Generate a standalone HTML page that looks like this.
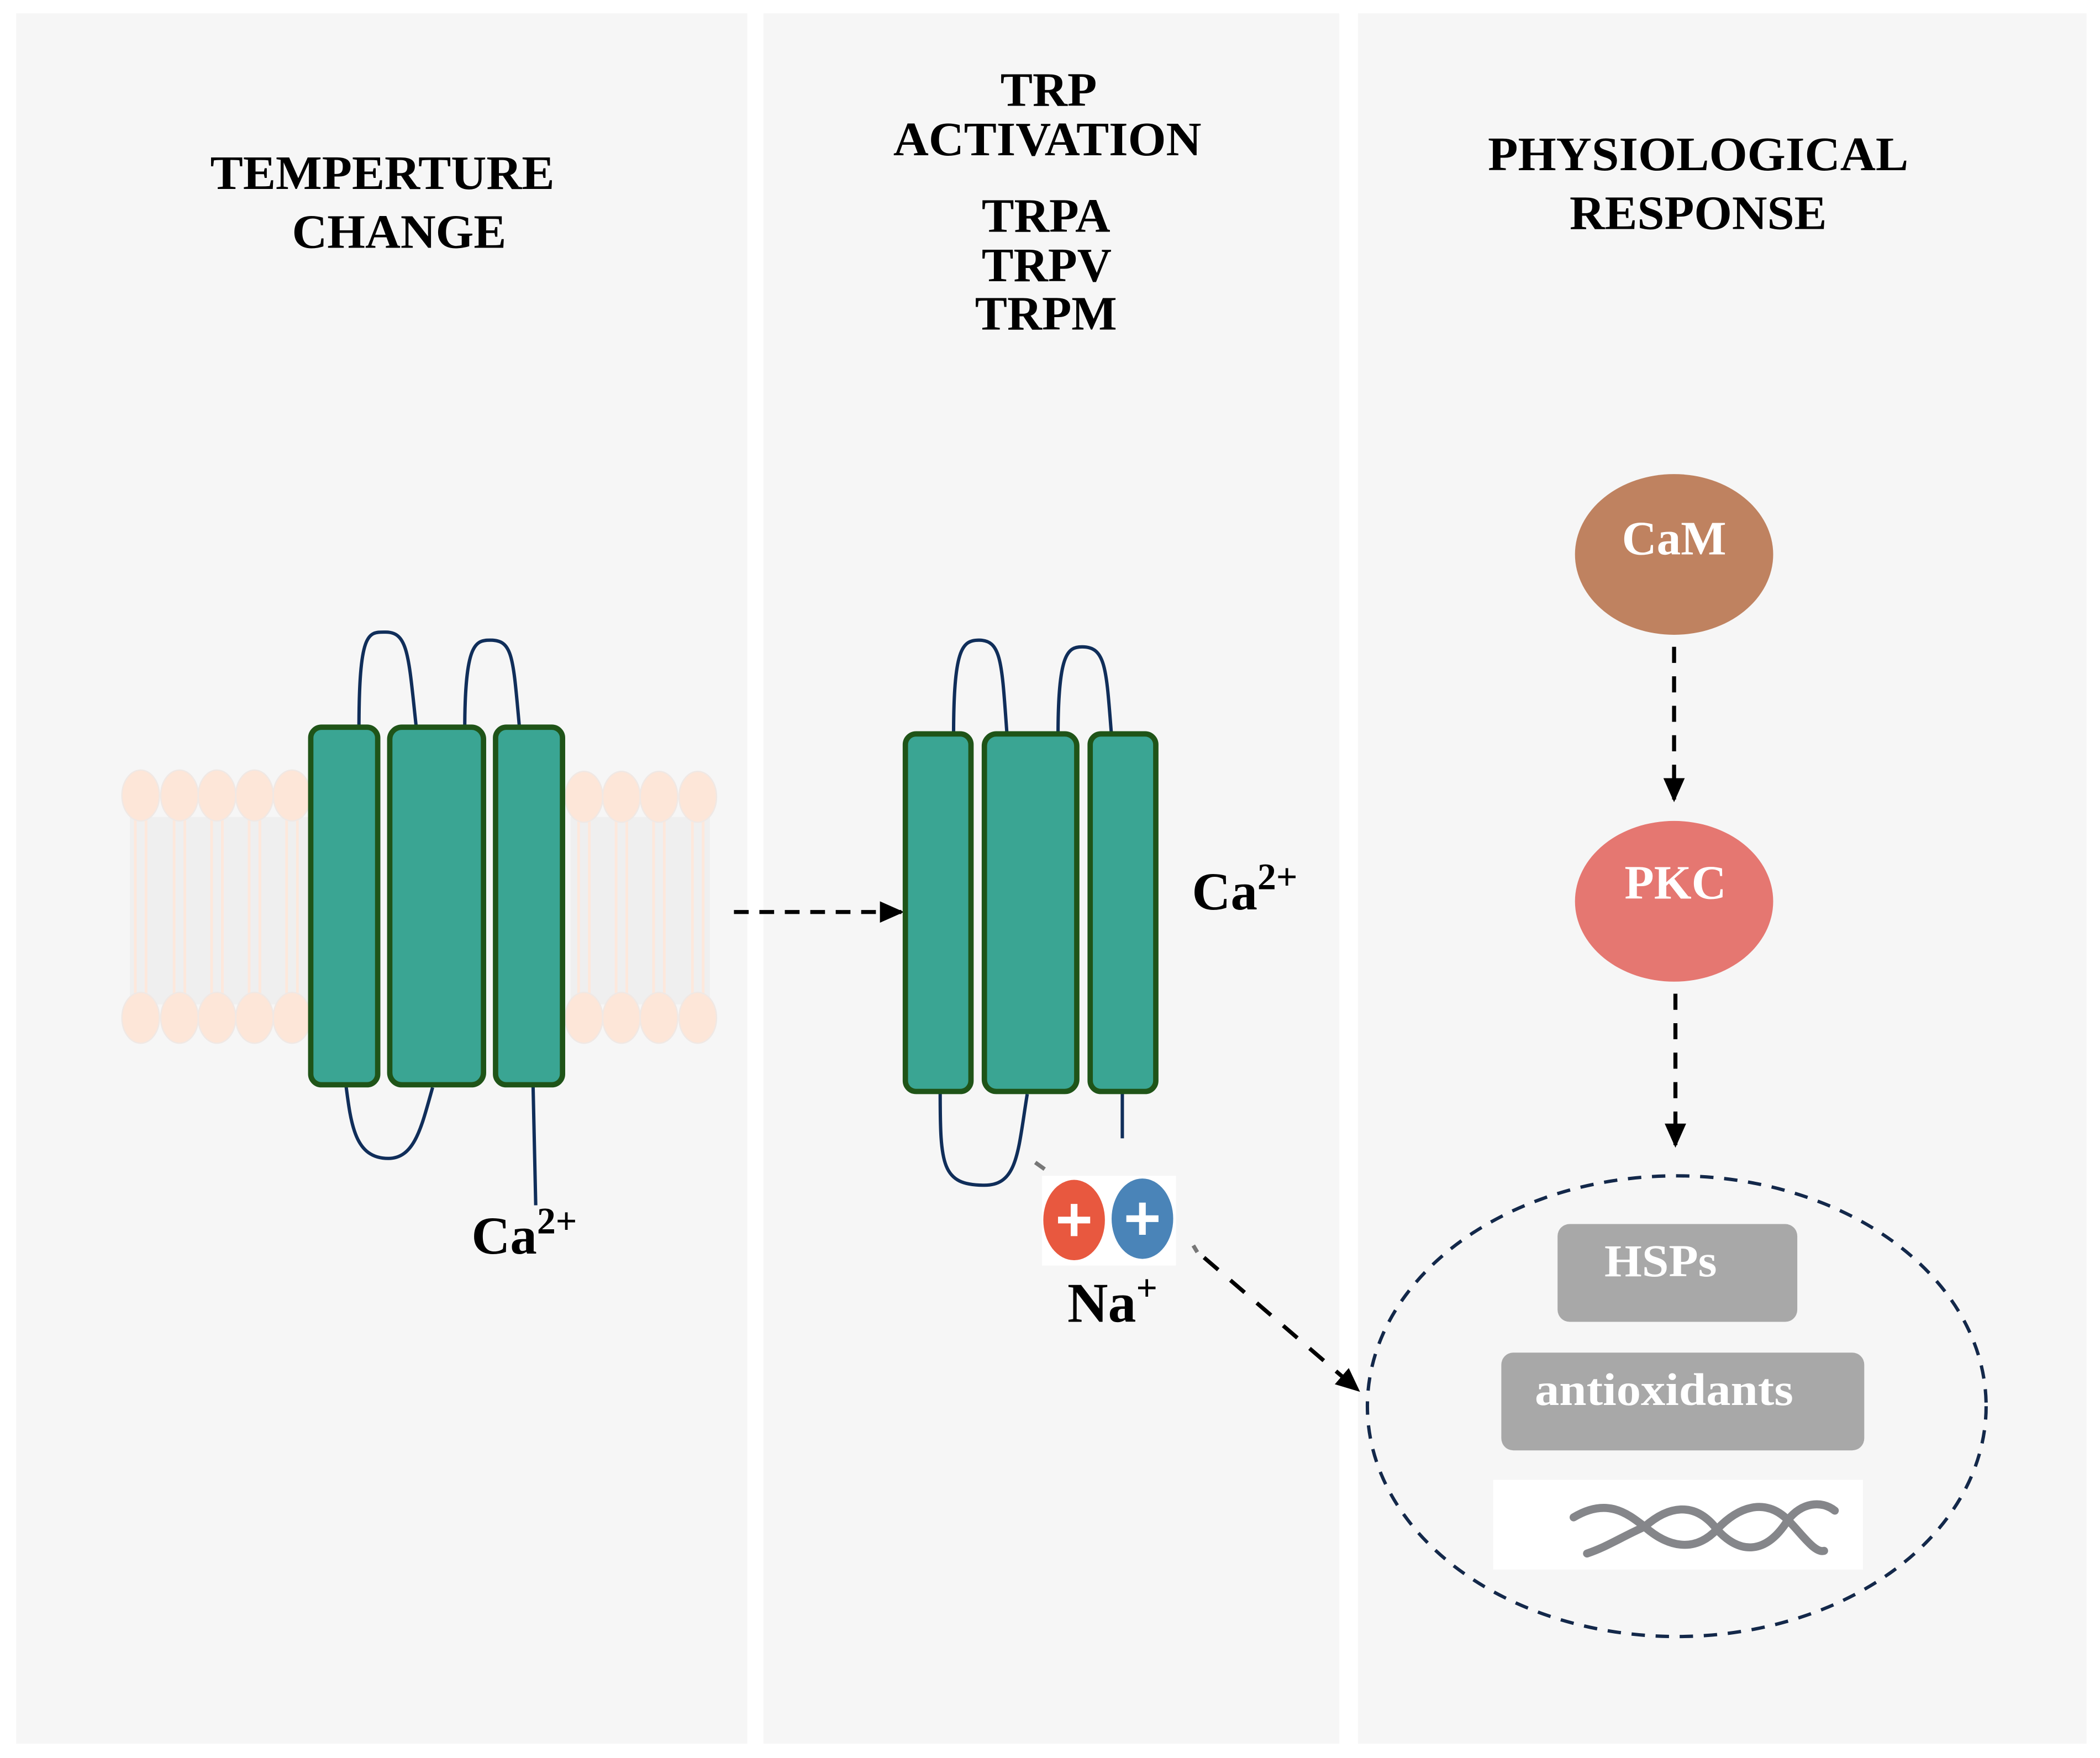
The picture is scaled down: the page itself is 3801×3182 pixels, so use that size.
<!DOCTYPE html>
<html><head><meta charset="utf-8"><style>
html,body{margin:0;padding:0;background:#fff;}
svg{display:block;}
text{font-family:"Liberation Serif",serif;font-weight:bold;}
</style></head><body>
<svg width="3801" height="3182" viewBox="0 0 1568 1312.7" xmlns="http://www.w3.org/2000/svg">
<defs>
<marker id="ah2" markerWidth="20" markerHeight="20" refX="16" refY="10" orient="auto" markerUnits="userSpaceOnUse" viewBox="0 0 20 20">
<path d="M0,2 L18,10 L0,18 Z" fill="#000"/></marker>
</defs>
<rect width="1568" height="1313" fill="#fff"/>
<rect x="12" y="10" width="546" height="1292" fill="#f6f6f6"/>
<rect x="570" y="10" width="430" height="1292" fill="#f6f6f6"/>
<rect x="1014" y="10" width="544" height="1292" fill="#f6f6f6"/>

<g font-size="36" fill="#000" lengthAdjust="spacingAndGlyphs">
<text x="157" y="141" textLength="257" lengthAdjust="spacingAndGlyphs">TEMPERTURE</text>
<text x="218" y="185" textLength="160" lengthAdjust="spacingAndGlyphs">CHANGE</text>
<text x="747" y="79" textLength="72" lengthAdjust="spacingAndGlyphs">TRP</text>
<text x="667" y="116" textLength="230" lengthAdjust="spacingAndGlyphs">ACTIVATION</text>
<text x="733" y="173" textLength="96" lengthAdjust="spacingAndGlyphs">TRPA</text>
<text x="733" y="210" textLength="97" lengthAdjust="spacingAndGlyphs">TRPV</text>
<text x="728" y="246" textLength="106" lengthAdjust="spacingAndGlyphs">TRPM</text>
<text x="1111" y="127" textLength="314" lengthAdjust="spacingAndGlyphs">PHYSIOLOGICAL</text>
<text x="1172" y="171" textLength="192" lengthAdjust="spacingAndGlyphs">RESPONSE</text>
</g>

<g>
<rect x="97" y="610" width="140" height="140" fill="#efefef"/>
<rect x="426" y="610" width="104" height="140" fill="#efefef"/>
<g stroke="#fde8dc" stroke-width="2">
<path d="M101,610V750M109,610V750M130,610V750M138,610V750M158,610V750M166,610V750M186,610V750M194,610V750M214,610V750M222,610V750"/>
<path d="M432,610V750M440,610V750M460,610V750M468,610V750M488,610V750M496,610V750M517,610V750M525,610V750"/>
</g>
<g fill="#fde6d8" stroke="#f0e8e4" stroke-width="1">
<ellipse cx="105" cy="594" rx="14" ry="19"/><ellipse cx="134" cy="594" rx="14" ry="19"/><ellipse cx="162" cy="594" rx="14" ry="19"/><ellipse cx="190" cy="594" rx="14" ry="19"/><ellipse cx="218" cy="594" rx="14" ry="19"/>
<ellipse cx="436" cy="595" rx="14" ry="19"/><ellipse cx="464" cy="595" rx="14" ry="19"/><ellipse cx="492" cy="595" rx="14" ry="19"/><ellipse cx="521" cy="595" rx="14" ry="19"/>
<ellipse cx="105" cy="760" rx="14" ry="19"/><ellipse cx="134" cy="760" rx="14" ry="19"/><ellipse cx="162" cy="760" rx="14" ry="19"/><ellipse cx="190" cy="760" rx="14" ry="19"/><ellipse cx="218" cy="760" rx="14" ry="19"/>
<ellipse cx="436" cy="760" rx="14" ry="19"/><ellipse cx="464" cy="760" rx="14" ry="19"/><ellipse cx="492" cy="760" rx="14" ry="19"/><ellipse cx="521" cy="760" rx="14" ry="19"/>
</g>
</g>

<g fill="none" stroke="#102e5a" stroke-width="2.5">
<path d="M268,545 C268,470 275,472 288,472 C305,472 305,490 311,545"/>
<path d="M347,545 C347,480 355,478 366,478 C383,478 383,490 388,545"/>
<path d="M258,808 C262,840 265,865 290,865 C310,865 315,840 323,812"/>
<path d="M398,810 L400,900"/>
</g>
<g fill="#3aa593" stroke="#1f5418" stroke-width="4">
<rect x="232" y="543" width="50" height="267" rx="8"/>
<rect x="291" y="543" width="70" height="267" rx="9"/>
<rect x="370" y="543" width="50" height="267" rx="8"/>
</g>
<text x="352" y="936" font-size="40">Ca<tspan font-size="28" dy="-15">2+</tspan></text>

<line x1="548" y1="681" x2="673" y2="681" stroke="#000" stroke-width="3" stroke-dasharray="11,8" marker-end="url(#ah2)"/>

<g fill="none" stroke="#102e5a" stroke-width="2.5">
<path d="M712,550 C712,485 718,478 731,478 C748,478 748,495 752,550"/>
<path d="M790,550 C790,488 797,483 808,483 C826,483 826,500 830,550"/>
<path d="M702,815 C702,870 703,885 735,885 C760,885 760,860 767,817"/>
<path d="M838,815 L838,850"/>
</g>
<g fill="#3aa593" stroke="#1f5418" stroke-width="4">
<rect x="676" y="548" width="49" height="267" rx="8"/>
<rect x="735" y="548" width="69" height="267" rx="9"/>
<rect x="814" y="548" width="49" height="267" rx="8"/>
</g>
<text x="890" y="679" font-size="40">Ca<tspan font-size="28" dy="-15">2+</tspan></text>

<line x1="773" y1="868" x2="780" y2="873" stroke="#777" stroke-width="3"/>
<rect x="778" y="878" width="100" height="67" fill="#fff"/>
<ellipse cx="802" cy="911" rx="23" ry="30" fill="#e8583f"/>
<ellipse cx="853" cy="910" rx="23" ry="30" fill="#4a84b8"/>
<g stroke="#fff" stroke-width="5">
<path d="M790,911H814M802,899V923"/>
<path d="M841,910H865M853,898V922"/>
</g>
<text x="797" y="987" font-size="42">Na<tspan font-size="28" dy="-16">+</tspan></text>

<line x1="891" y1="930" x2="894" y2="935" stroke="#777" stroke-width="3"/>
<line x1="899" y1="939" x2="1014" y2="1038" stroke="#000" stroke-width="3" stroke-dasharray="14,12" marker-end="url(#ah2)"/>

<ellipse cx="1250" cy="414" rx="74" ry="60" fill="#bf8260"/>
<text x="1250" y="414" font-size="36" fill="#fff" text-anchor="middle">CaM</text>
<line x1="1250" y1="483" x2="1250" y2="597" stroke="#000" stroke-width="3" stroke-dasharray="12,10" marker-end="url(#ah2)"/>
<ellipse cx="1250" cy="673" rx="74" ry="60" fill="#e57771"/>
<text x="1251" y="671" font-size="36" fill="#fff" text-anchor="middle">PKC</text>
<line x1="1251" y1="742" x2="1251" y2="855" stroke="#000" stroke-width="3" stroke-dasharray="12,10" marker-end="url(#ah2)"/>

<ellipse cx="1252" cy="1050" rx="231" ry="172" fill="none" stroke="#13284a" stroke-width="2.5" stroke-dasharray="10,8"/>
<rect x="1163" y="914" width="179" height="73" rx="9" fill="#a8a8a8"/>
<text x="1198" y="953" font-size="34" fill="#fff" textLength="84" lengthAdjust="spacingAndGlyphs">HSPs</text>
<rect x="1121" y="1010" width="271" height="73" rx="9" fill="#a8a8a8"/>
<text x="1146" y="1049" font-size="34" fill="#fff" textLength="193" lengthAdjust="spacingAndGlyphs">antioxidants</text>
<rect x="1115" y="1105" width="276" height="67" fill="#fff"/>
<g fill="none" stroke="#85868a" stroke-width="6" stroke-linecap="round">
<path d="M1175,1133 C1200,1118 1215,1130 1228,1140 C1245,1155 1265,1160 1282,1142 C1298,1125 1318,1118 1335,1135 C1345,1145 1355,1160 1362,1158"/>
<path d="M1185,1160 C1200,1155 1210,1148 1228,1140 C1245,1125 1265,1120 1282,1142 C1298,1160 1318,1162 1335,1135 C1345,1122 1360,1120 1370,1128"/>
</g>
</svg>
</body></html>
